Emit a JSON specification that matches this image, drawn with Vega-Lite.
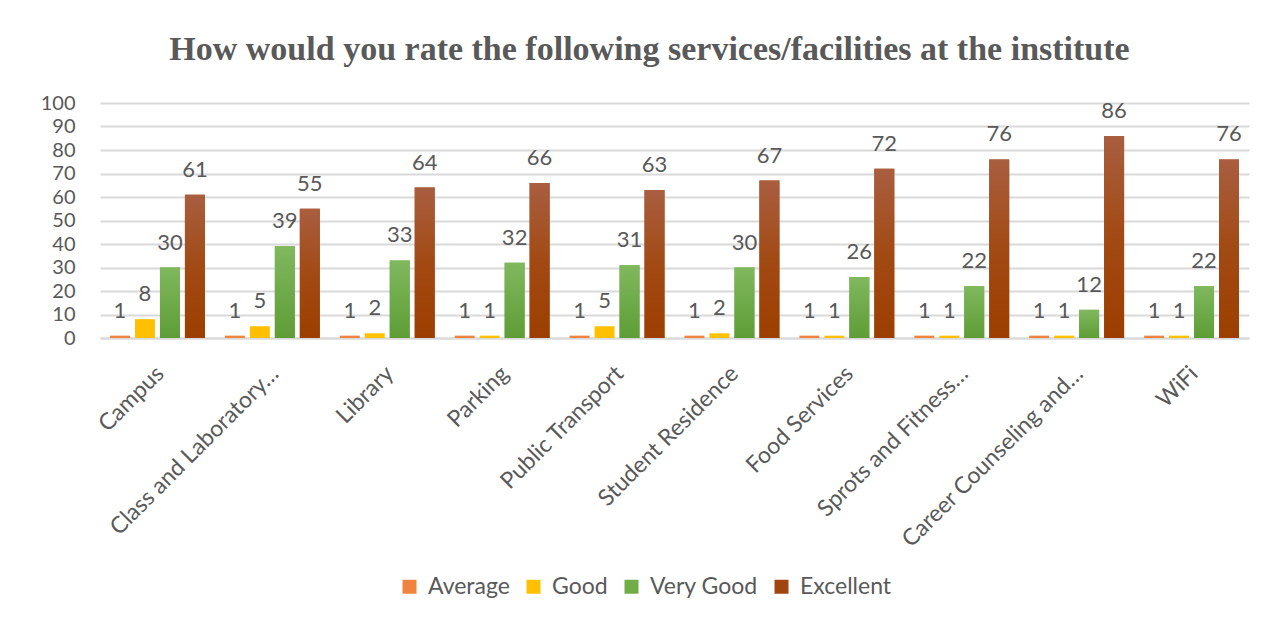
{
  "$schema": "https://vega.github.io/schema/vega-lite/v6.json",
  "width": 1149,
  "height": 235,
  "autosize": {"type": "none"},
  "padding": {"left": 100, "top": 103, "right": 37, "bottom": 288},
  "background": "white",
  "title": {
    "text": "How would you rate the following services/facilities at the institute",
    "font": "Liberation Serif",
    "fontSize": 34,
    "fontWeight": "bold",
    "color": "#595959",
    "anchor": "middle",
    "baseline": "alphabetic",
    "dx": -25,
    "offset": -1
  },
  "data": {
    "values": [
      {"facility": "Campus", "rating": "Average", "value": 1},
      {"facility": "Campus", "rating": "Good", "value": 8},
      {"facility": "Campus", "rating": "Very Good", "value": 30},
      {"facility": "Campus", "rating": "Excellent", "value": 61},
      {"facility": "Class and Laboratory…", "rating": "Average", "value": 1},
      {"facility": "Class and Laboratory…", "rating": "Good", "value": 5},
      {"facility": "Class and Laboratory…", "rating": "Very Good", "value": 39},
      {"facility": "Class and Laboratory…", "rating": "Excellent", "value": 55},
      {"facility": "Library", "rating": "Average", "value": 1},
      {"facility": "Library", "rating": "Good", "value": 2},
      {"facility": "Library", "rating": "Very Good", "value": 33},
      {"facility": "Library", "rating": "Excellent", "value": 64},
      {"facility": "Parking", "rating": "Average", "value": 1},
      {"facility": "Parking", "rating": "Good", "value": 1},
      {"facility": "Parking", "rating": "Very Good", "value": 32},
      {"facility": "Parking", "rating": "Excellent", "value": 66},
      {"facility": "Public Transport", "rating": "Average", "value": 1},
      {"facility": "Public Transport", "rating": "Good", "value": 5},
      {"facility": "Public Transport", "rating": "Very Good", "value": 31},
      {"facility": "Public Transport", "rating": "Excellent", "value": 63},
      {"facility": "Student Residence", "rating": "Average", "value": 1},
      {"facility": "Student Residence", "rating": "Good", "value": 2},
      {"facility": "Student Residence", "rating": "Very Good", "value": 30},
      {"facility": "Student Residence", "rating": "Excellent", "value": 67},
      {"facility": "Food Services", "rating": "Average", "value": 1},
      {"facility": "Food Services", "rating": "Good", "value": 1},
      {"facility": "Food Services", "rating": "Very Good", "value": 26},
      {"facility": "Food Services", "rating": "Excellent", "value": 72},
      {"facility": "Sprots and Fitness…", "rating": "Average", "value": 1},
      {"facility": "Sprots and Fitness…", "rating": "Good", "value": 1},
      {"facility": "Sprots and Fitness…", "rating": "Very Good", "value": 22},
      {"facility": "Sprots and Fitness…", "rating": "Excellent", "value": 76},
      {"facility": "Career Counseling and…", "rating": "Average", "value": 1},
      {"facility": "Career Counseling and…", "rating": "Good", "value": 1},
      {"facility": "Career Counseling and…", "rating": "Very Good", "value": 12},
      {"facility": "Career Counseling and…", "rating": "Excellent", "value": 86},
      {"facility": "WiFi", "rating": "Average", "value": 1},
      {"facility": "WiFi", "rating": "Good", "value": 1},
      {"facility": "WiFi", "rating": "Very Good", "value": 22},
      {"facility": "WiFi", "rating": "Excellent", "value": 76}
    ]
  },
  "encoding": {
    "x": {
      "field": "facility",
      "type": "nominal",
      "sort": null,
      "scale": {"paddingInner": 0.174, "paddingOuter": 0.087},
      "axis": {
        "title": null,
        "labelAngle": -45,
        "labelAlign": "right",
        "labelBaseline": "top",
        "labelPadding": 24,
        "labelOffset": -5,
        "labelFont": "Lato",
        "labelFontSize": 23,
        "labelColor": "#595959",
        "labelLimit": 0,
        "ticks": false,
        "domainColor": "#D9D9D9",
        "domainWidth": 2,
        "grid": false
      }
    },
    "xOffset": {
      "field": "rating",
      "type": "nominal",
      "sort": ["Average", "Good", "Very Good", "Excellent"],
      "scale": {"domain": ["Average", "Good", "Very Good", "Excellent"], "paddingInner": 0.2, "paddingOuter": 0}
    },
    "y": {
      "field": "value",
      "type": "quantitative",
      "scale": {"domain": [0, 100], "nice": false},
      "axis": {
        "title": null,
        "values": [0, 10, 20, 30, 40, 50, 60, 70, 80, 90, 100],
        "grid": true,
        "gridColor": "#D9D9D9",
        "gridWidth": 2,
        "domain": false,
        "ticks": false,
        "labelPadding": 25,
        "labelFont": "Lato",
        "labelFontSize": 20,
        "labelColor": "#595959"
      }
    }
  },
  "layer": [
    {
      "mark": {"type": "bar"},
      "encoding": {
        "color": {
          "field": "rating",
          "type": "nominal",
          "sort": ["Average", "Good", "Very Good", "Excellent"],
          "scale": {
            "domain": ["Average", "Good", "Very Good", "Excellent"],
            "range": ["#EE8440", "#FFC000", "#70AD47", "#A0450F"]
          },
          "legend": {
            "title": null,
            "orient": "none",
            "legendX": 298,
            "legendY": 472,
            "direction": "horizontal",
            "symbolType": "square",
            "symbolSize": 196,
            "symbolStrokeWidth": 0,
            "labelFont": "Lato",
            "labelFontSize": 23,
            "labelColor": "#595959",
            "labelOffset": 7,
            "columnPadding": 12
          }
        }
      }
    },
    {
      "transform": [{"filter": "datum.rating === 'Very Good'"}],
      "mark": {
        "type": "bar",
        "color": {"gradient": "linear", "x1": 0, "y1": 0, "x2": 0, "y2": 1, "stops": [{"offset": 0, "color": "#80B85E"}, {"offset": 1, "color": "#5E9D36"}]}
      }
    },
    {
      "transform": [{"filter": "datum.rating === 'Excellent'"}],
      "mark": {
        "type": "bar",
        "color": {"gradient": "linear", "x1": 0, "y1": 0, "x2": 0, "y2": 1, "stops": [{"offset": 0, "color": "#A95E40"}, {"offset": 0.5, "color": "#A24A14"}, {"offset": 1, "color": "#9C3E00"}]}
      }
    },
    {
      "mark": {
        "type": "text",
        "baseline": "alphabetic",
        "dy": -18,
        "font": "Lato",
        "fontSize": 22,
        "color": "#595959"
      },
      "encoding": {"text": {"field": "value", "type": "quantitative"}}
    }
  ],
  "config": {"view": {"stroke": null}}
}
